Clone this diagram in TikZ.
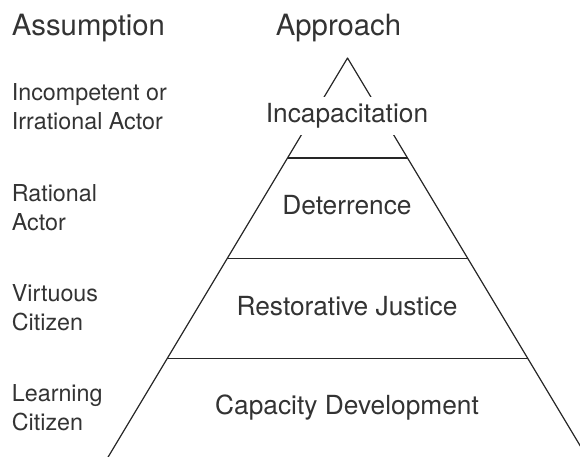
\documentclass[tikz,border=0pt]{standalone}
\usepackage{fontspec}
\setmainfont{TeX Gyre Heros}
\begin{document}
\begin{tikzpicture}[x=1pt,y=-1pt,
    every node/.style={text=black!80,inner sep=0pt},
    heading/.style={font=\fontsize{29.3}{35}\selectfont},
    assume/.style={font=\fontsize{23.3}{28.6}\selectfont,align=left,anchor=base west},
    tier/.style={font=\fontsize{26.3}{32}\selectfont,anchor=base},
    edge/.style={line width=1.2pt,draw=black!85,line join=round}]
  \useasboundingbox (0,0) rectangle (580,456);
  \clip (0,0) rectangle (580,456);
  % column heads
  \node[heading,anchor=base west] (assumption) at (11.7,35) {Assumption};
  \node[heading,anchor=base] (approach) at (338.5,35) {Approach};
  % pyramid
  \coordinate (apex) at (347.5,58);
  \draw[edge] (100.3,470) -- (apex) -- (594.7,470);
  \draw[edge] (287.5,158) -- (407.5,158);
  \draw[edge] (227.3,258.3) -- (467.7,258.3);
  \draw[edge] (167.2,358.5) -- (527.8,358.5);
  \node[tier,fill=white,inner xsep=4pt,inner ysep=7pt] (incap) at (347,122.7) {Incapacitation};
  \node[tier] (deter) at (347,214.3) {Deterrence};
  \node[tier] (restore) at (347,315.7) {Restorative Justice};
  \node[tier] (capacity) at (347,414) {Capacity Development};
  % assumptions (base = last line)
  \node[assume] (irrational) at (11.7,129.3) {Incompetent or\\Irrational Actor};
  \node[assume] (rational) at (11.7,230) {Rational\\Actor};
  \node[assume] (virtuous) at (11.7,330) {Virtuous\\Citizen};
  \node[assume] (learning) at (11.7,430) {Learning\\Citizen};
\end{tikzpicture}
\end{document}
